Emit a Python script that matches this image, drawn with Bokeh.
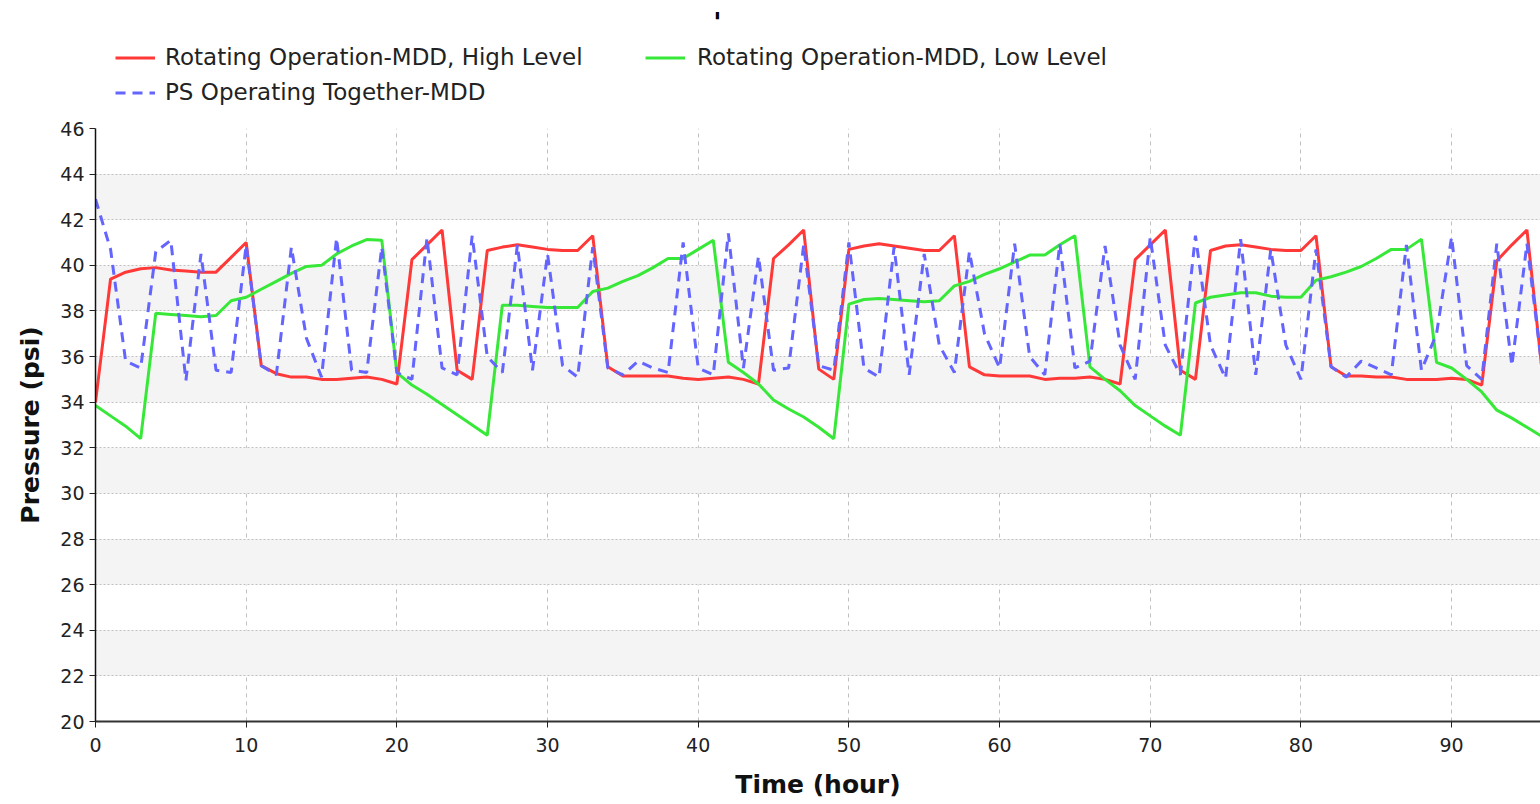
from bokeh.plotting import figure
from bokeh.layouts import column
from bokeh.models import (Range1d, FixedTicker, Legend, LegendItem, Label)
from bokeh.embed import file_html
from bokeh.resources import INLINE

hours = list(range(0, 97))

high_level = [34.0, 39.4, 39.7, 39.85, 39.9, 39.8, 39.75, 39.7, 39.7, 40.35,
              41.0, 35.6, 35.25, 35.1, 35.1, 35.0, 35.0, 35.05, 35.1, 35.0,
              34.8, 40.25, 40.9, 41.55, 35.4, 35.0, 40.65, 40.8, 40.9, 40.8,
              40.7, 40.65, 40.65, 41.3, 35.55, 35.15, 35.15, 35.15, 35.15, 35.05,
              35.0, 35.05, 35.1, 35.0, 34.8, 40.3, 40.9, 41.55, 35.45, 35.0,
              40.7, 40.85, 40.95, 40.85, 40.75, 40.65, 40.65, 41.3, 35.55, 35.2,
              35.15, 35.15, 35.15, 35.0, 35.05, 35.05, 35.1, 35.0, 34.8, 40.25,
              40.9, 41.55, 35.4, 35.0, 40.65, 40.85, 40.9, 40.8, 40.7, 40.65,
              40.65, 41.3, 35.55, 35.15, 35.15, 35.1, 35.1, 35.0, 35.0, 35.0,
              35.05, 35.0, 34.75, 40.2, 40.9, 41.55, 35.4]

low_level = [33.85, 33.4, 32.95, 32.4, 37.9, 37.85, 37.8, 37.75, 37.8, 38.45,
             38.6, 38.95, 39.3, 39.65, 39.95, 40.0, 40.5, 40.85, 41.13, 41.1,
             35.3, 34.75, 34.35, 33.9, 33.45, 33.0, 32.55, 38.25, 38.25, 38.2,
             38.15, 38.15, 38.15, 38.85, 39.0, 39.3, 39.55, 39.9, 40.3, 40.3,
             40.7, 41.1, 35.75, 35.3, 34.8, 34.1, 33.7, 33.35, 32.9, 32.4,
             38.3, 38.5, 38.55, 38.5, 38.45, 38.4, 38.45, 39.1, 39.3, 39.6,
             39.85, 40.15, 40.45, 40.45, 40.9, 41.3, 35.55, 35.0, 34.5, 33.85,
             33.4, 32.95, 32.55, 38.35, 38.6, 38.7, 38.8, 38.8, 38.65, 38.6,
             38.6, 39.35, 39.5, 39.7, 39.95, 40.3, 40.7, 40.7, 41.15, 35.75,
             35.5, 35.0, 34.45, 33.65, 33.3, 32.9, 32.5]

together = [42.9, 40.7, 35.8, 35.5, 40.6, 41.1, 34.95, 40.5, 35.4, 35.3,
            40.9, 35.6, 35.2, 40.8, 36.8, 35.1, 41.2, 35.4, 35.3, 40.8,
            35.3, 35.0, 41.2, 35.5, 35.2, 41.3, 36.0, 35.3, 40.9, 35.4,
            40.5, 35.6, 35.1, 40.8, 35.5, 35.2, 35.8, 35.5, 35.3, 41.0,
            35.5, 35.2, 41.4, 35.5, 40.4, 35.4, 35.5, 40.9, 35.6, 35.4,
            41.0, 35.5, 35.1, 40.8, 35.2, 40.5, 36.5, 35.3, 40.6, 37.0,
            35.5, 40.95, 36.0, 35.2, 40.95, 35.5, 35.8, 40.85, 36.5, 35.0,
            41.24, 36.5, 35.2, 41.3, 36.5, 35.05, 41.15, 35.2, 40.7, 36.5,
            35.0, 40.7, 35.55, 35.1, 35.8, 35.5, 35.2, 40.9, 35.4, 37.0,
            41.24, 35.6, 35.0, 40.95, 35.6, 40.95, 35.5]

series_names = ["Rotating Operation-MDD, High Level",
                "Rotating Operation-MDD, Low Level",
                "PS Operating Together-MDD"]
x_ticks = [0, 10, 20, 30, 40, 50, 60, 70, 80, 90]
y_ticks = list(range(20, 47, 2))

FONT = "DejaVu Sans"
RED, GREEN, BLUE = "#ff3838", "#38e838", "#6464ff"
DASH = "10 7"
LEFT = 95      # left border of the plotting frame (header frame is aligned to it)
NAN = [float("nan")]

# ---------- header strip: title mark and legend ----------
TOP_H = 116
head = figure(width=1540, height=TOP_H, output_backend="svg", toolbar_location=None,
              x_range=Range1d(0, 1), y_range=Range1d(0, 1),
              x_axis_location=None, y_axis_location=None,
              min_border_left=0, min_border_right=0, min_border_top=0,
              min_border_bottom=0)
head.outline_line_color = None
head.xgrid.visible = False
head.ygrid.visible = False

# legend proxies (no visible data)
h_high = head.line(NAN, NAN, line_color=RED, line_width=3)
h_low = head.line(NAN, NAN, line_color=GREEN, line_width=3)
h_tog = head.line(NAN, NAN, line_color=BLUE, line_width=3, line_dash=DASH)

leg_a = Legend(items=[LegendItem(label=series_names[0], renderers=[h_high]),
                      LegendItem(label=series_names[2], renderers=[h_tog])],
               location=(115 - LEFT, TOP_H - 105.5), orientation="vertical")
leg_b = Legend(items=[LegendItem(label=series_names[1], renderers=[h_low])],
               location=(645 - LEFT, TOP_H - 70.5), orientation="vertical")
for lg, standoff in ((leg_a, 10), (leg_b, 12)):
    lg.label_text_font = FONT
    lg.label_text_font_size = "23px"
    lg.label_text_color = "#222222"
    lg.glyph_width = 40
    lg.glyph_height = 27
    lg.label_height = 27
    lg.label_standoff = standoff
    lg.spacing = 8
    lg.padding = 0
    lg.margin = 0
    lg.border_line_color = None
    lg.background_fill_alpha = 0
    head.add_layout(lg, "center")

mark = Label(x=717 - LEFT, y=TOP_H - 22, x_units="screen", y_units="screen", text="'",
             text_font=FONT, text_font_style="bold", text_font_size="27px",
             text_color="#000000", text_align="center", text_baseline="alphabetic")
head.add_layout(mark)

# ---------- main chart ----------
p = figure(width=1540, height=804 - TOP_H, output_backend="svg", toolbar_location=None,
           x_range=Range1d(0, 95.9), y_range=Range1d(20, 46),
           min_border_left=LEFT, min_border_top=12, min_border_bottom=83,
           min_border_right=0)
p.outline_line_color = None
p.background_fill_color = "white"
p.border_fill_color = "white"

p.xaxis.ticker = FixedTicker(ticks=x_ticks)
p.yaxis.ticker = FixedTicker(ticks=y_ticks)
for ax in (p.xaxis[0], p.yaxis[0]):
    ax.minor_tick_line_color = None
    ax.major_tick_in = 0
    ax.major_tick_out = 6
    ax.major_tick_line_color = "#222222"
    ax.major_label_text_font = FONT
    ax.major_label_text_font_size = "19px"
    ax.major_label_text_color = "#222222"
    ax.axis_label_text_font = FONT
    ax.axis_label_text_font_style = "bold"
    ax.axis_label_text_font_size = "25px"
    ax.axis_label_text_color = "#111111"
p.xaxis.axis_label = "Time (hour)"
p.yaxis.axis_label = "Pressure (psi)"
p.xaxis.axis_line_color = "#333333"
p.xaxis.axis_line_width = 2
p.yaxis.axis_line_color = "#111111"
p.yaxis.axis_line_width = 1.5
p.xaxis.major_label_standoff = 10
p.xaxis.axis_label_standoff = 15
p.yaxis.major_label_standoff = 5
p.yaxis.axis_label_standoff = 12

p.xgrid.grid_line_color = "#c0c0c0"
p.xgrid.grid_line_dash = "4 4"
p.ygrid.grid_line_color = "#c0c0c0"
p.ygrid.grid_line_dash = "2 2"
p.ygrid.band_fill_color = "#f4f4f4"
p.ygrid.band_fill_alpha = 1.0

p.line(hours, high_level, line_color=RED, line_width=3)
p.line(hours, low_level, line_color=GREEN, line_width=3)
p.line(hours, together, line_color=BLUE, line_width=3, line_dash=DASH)

layout = column(head, p, spacing=0)
open("out.html", "w").write(file_html(layout, INLINE))
